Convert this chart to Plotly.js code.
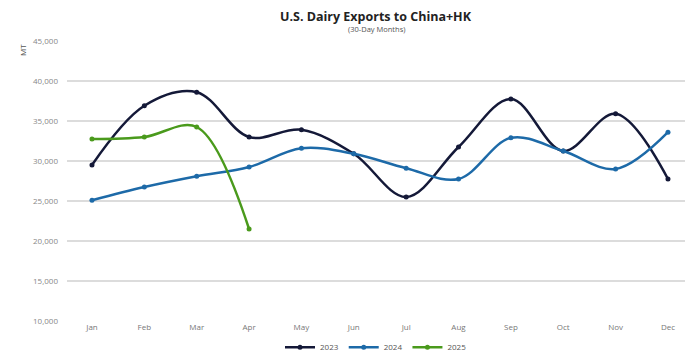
<!DOCTYPE html>
<html><head><meta charset="utf-8">
<script src="https://cdn.plot.ly/plotly-3.0.1.min.js"></script>
<style>body{margin:0;background:#fff}#c{width:700px;height:355px}</style>
</head><body><div id="c"></div>
<script>
const months = ["Jan","Feb","Mar","Apr","May","Jun","Jul","Aug","Sep","Oct","Nov","Dec"];
const y2023 = [29500,36900,38600,33000,33900,30900,25500,31750,37750,31250,35900,27750];
const y2024 = [25100,26750,28100,29250,31600,30900,29100,27750,32900,31250,29000,33600];
const y2025 = [32750,33000,34250,21500];
const seriesNames = ["2023","2024","2025"];
const colors = ["#141938","#1d6aa8","#4a9a1c"];
const yTicks = [10000,15000,20000,25000,30000,35000,40000,45000];

function tr(name, x, y, c){
  return {type:"scatter", mode:"lines+markers", name:name, x:x, y:y,
    line:{color:c, width:2.5, shape:"spline", smoothing:1},
    marker:{color:c, size:5}};
}
const data = [
  tr(seriesNames[0], months, y2023, colors[0]),
  tr(seriesNames[1], months, y2024, colors[1]),
  tr(seriesNames[2], months.slice(0, y2025.length), y2025, colors[2])
];
const layout = {
  width:700, height:355,
  margin:{l:67, r:15, t:41, b:34, autoexpand:false},
  paper_bgcolor:"#fff", plot_bgcolor:"#fff",
  font:{family:"Open Sans, sans-serif", color:"#666"},
  showlegend:true,
  legend:{orientation:"h", x:0.5, xanchor:"center", yref:"container", y:0.022, yanchor:"middle",
    font:{size:8, color:"#555"}, itemwidth:30, tracegroupgap:0},
  xaxis:{type:"category", range:[-0.477, 11.325], showgrid:false, zeroline:false,
    showline:false, ticks:"", tickfont:{size:8, color:"#777"}, automargin:false},
  yaxis:{range:[10000,45000], tickvals:yTicks, tickformat:",", showgrid:true,
    gridcolor:"#dcdcdc", gridwidth:1.5, zeroline:false, showline:false, ticks:"",
    tickfont:{size:8, color:"#888"}, ticklabelstandoff:8, automargin:false},
  annotations:[
    {text:"<b>U.S. Dairy Exports to China+HK</b>", xref:"paper", yref:"paper", x:0.5, y:1, yshift:25,
      yanchor:"middle", showarrow:false, font:{size:12.5, color:"#222", family:"Open Sans, sans-serif"}},
    {text:"(30-Day Months)", xref:"paper", yref:"paper", x:0.5, y:1, yshift:12,
      yanchor:"middle", showarrow:false, font:{size:7.5, color:"#555"}},
    {text:"MT", xref:"paper", yref:"paper", x:0, xshift:-45, xanchor:"center", y:1, yshift:-9, yanchor:"middle",
      textangle:-90, showarrow:false, font:{size:8, color:"#555"}}
  ]
};
Plotly.newPlot("c", data, layout, {displayModeBar:false, staticPlot:true});
</script></body></html>
